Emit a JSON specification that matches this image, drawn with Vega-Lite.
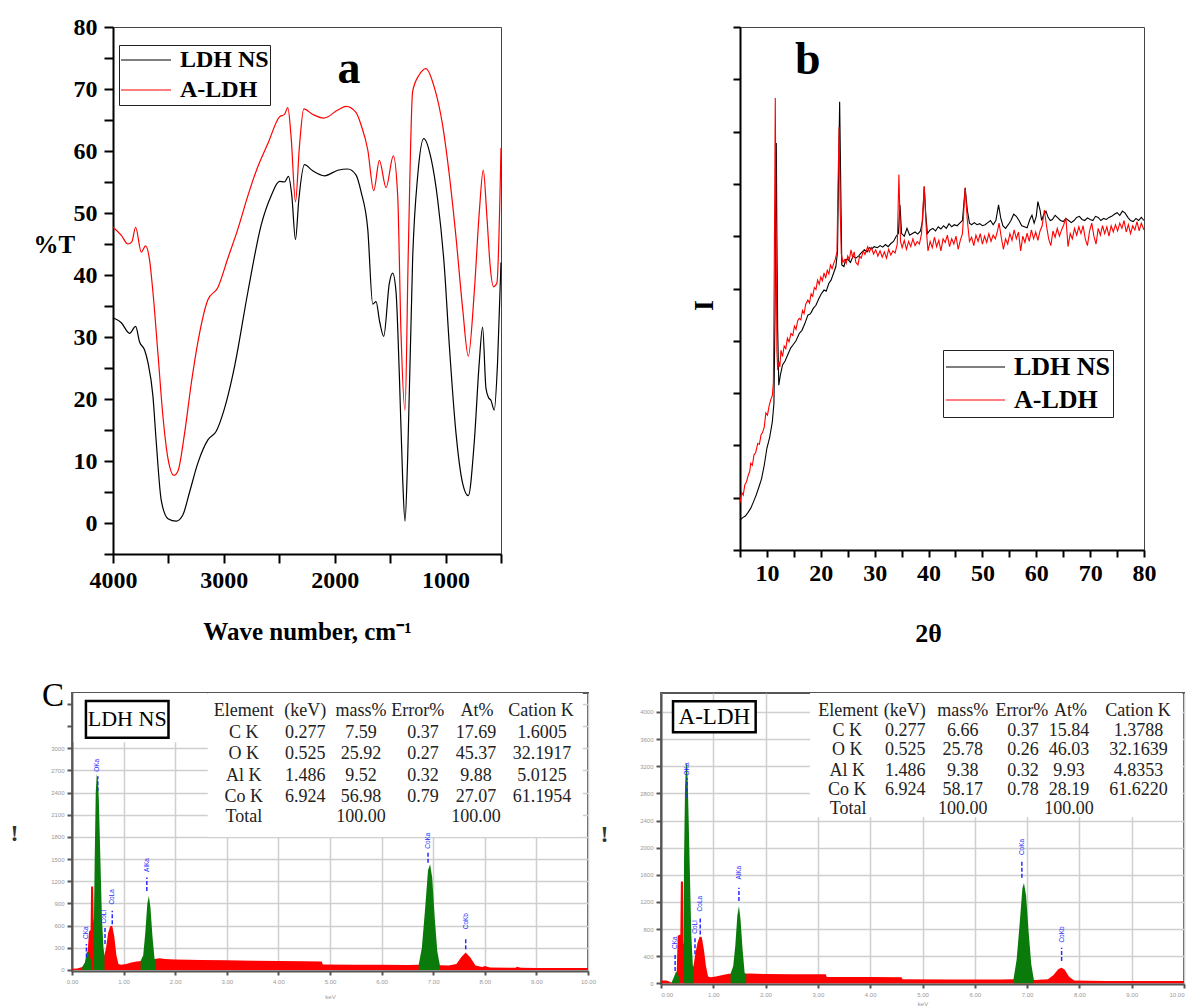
{
"$schema": "https://vega.github.io/schema/vega-lite/v6.json",
"background": "white",
"padding": {"left": 9, "top": 14, "right": 5, "bottom": 0},
"config": {"view": {"stroke": null}, "font": "Liberation Serif"},
"resolve": {"scale": {"color": "independent"}, "legend": {"color": "independent"}},
"columns": 1,
"align": "none",
"spacing": 32,
"concat": [
{
"hconcat": [
{
"width": 1, "height": 1,
"data": {"values": [{}]},
"mark": {"type": "point", "opacity": 0, "size": 1}
},
{
"hconcat": [
{
"width": 388, "height": 527,
"view": {"stroke": "#444", "strokeWidth": 1},
"layer": [
{
"data": {"values": [
{"s":"LDH NS","w":4000,"t":33.1},{"s":"LDH NS","w":3925,"t":32.3},{"s":"LDH NS","w":3850,"t":30.6},{"s":"LDH NS","w":3796,"t":31.7},{"s":"LDH NS","w":3760,"t":29.2},{"s":"LDH NS","w":3715,"t":27.9},{"s":"LDH NS","w":3685,"t":25.9},{"s":"LDH NS","w":3640,"t":20.5},{"s":"LDH NS","w":3610,"t":13.1},{"s":"LDH NS","w":3565,"t":3.7},{"s":"LDH NS","w":3504,"t":0.7},{"s":"LDH NS","w":3430,"t":0.3},{"s":"LDH NS","w":3370,"t":1.3},{"s":"LDH NS","w":3309,"t":5.0},{"s":"LDH NS","w":3234,"t":9.7},{"s":"LDH NS","w":3144,"t":13.4},{"s":"LDH NS","w":3069,"t":14.8},{"s":"LDH NS","w":2994,"t":18.5},{"s":"LDH NS","w":2904,"t":25.2},{"s":"LDH NS","w":2783,"t":37.3},{"s":"LDH NS","w":2663,"t":48.1},{"s":"LDH NS","w":2573,"t":52.8},{"s":"LDH NS","w":2498,"t":55.1},{"s":"LDH NS","w":2453,"t":55.0},{"s":"LDH NS","w":2417,"t":55.9},{"s":"LDH NS","w":2387,"t":52.8},{"s":"LDH NS","w":2354,"t":45.7},{"s":"LDH NS","w":2324,"t":52.1},{"s":"LDH NS","w":2273,"t":57.8},{"s":"LDH NS","w":2198,"t":56.8},{"s":"LDH NS","w":2092,"t":56.0},{"s":"LDH NS","w":1972,"t":56.9},{"s":"LDH NS","w":1882,"t":57.1},{"s":"LDH NS","w":1807,"t":56.1},{"s":"LDH NS","w":1762,"t":53.4},{"s":"LDH NS","w":1702,"t":47.4},{"s":"LDH NS","w":1657,"t":35.3},{"s":"LDH NS","w":1627,"t":35.7},{"s":"LDH NS","w":1595,"t":32.5},{"s":"LDH NS","w":1558,"t":30.1},{"s":"LDH NS","w":1507,"t":38.7},{"s":"LDH NS","w":1477,"t":40.3},{"s":"LDH NS","w":1447,"t":37.3},{"s":"LDH NS","w":1417,"t":23.9},{"s":"LDH NS","w":1387,"t":7.1},{"s":"LDH NS","w":1366,"t":0.3},{"s":"LDH NS","w":1342,"t":10.4},{"s":"LDH NS","w":1297,"t":42.7},{"s":"LDH NS","w":1251,"t":56.1},{"s":"LDH NS","w":1197,"t":62.0},{"s":"LDH NS","w":1131,"t":58.8},{"s":"LDH NS","w":1071,"t":52.1},{"s":"LDH NS","w":1011,"t":41.3},{"s":"LDH NS","w":966,"t":28.6},{"s":"LDH NS","w":906,"t":14.5},{"s":"LDH NS","w":846,"t":6.4},{"s":"LDH NS","w":795,"t":4.4},{"s":"LDH NS","w":741,"t":13.1},{"s":"LDH NS","w":696,"t":25.9},{"s":"LDH NS","w":666,"t":31.6},{"s":"LDH NS","w":636,"t":21.8},{"s":"LDH NS","w":612,"t":20.2},{"s":"LDH NS","w":591,"t":19.8},{"s":"LDH NS","w":561,"t":18.2},{"s":"LDH NS","w":531,"t":25.9},{"s":"LDH NS","w":500,"t":42.0},
{"s":"A-LDH","w":4000,"t":47.7},{"s":"A-LDH","w":3925,"t":46.4},{"s":"A-LDH","w":3865,"t":45.0},{"s":"A-LDH","w":3829,"t":45.4},{"s":"A-LDH","w":3796,"t":47.7},{"s":"A-LDH","w":3745,"t":43.7},{"s":"A-LDH","w":3706,"t":44.7},{"s":"A-LDH","w":3670,"t":42.4},{"s":"A-LDH","w":3640,"t":37.3},{"s":"A-LDH","w":3594,"t":27.2},{"s":"A-LDH","w":3549,"t":17.1},{"s":"A-LDH","w":3504,"t":10.4},{"s":"A-LDH","w":3450,"t":7.7},{"s":"A-LDH","w":3414,"t":8.4},{"s":"A-LDH","w":3354,"t":14.5},{"s":"A-LDH","w":3294,"t":22.5},{"s":"A-LDH","w":3234,"t":29.2},{"s":"A-LDH","w":3144,"t":36.0},{"s":"A-LDH","w":3054,"t":38.0},{"s":"A-LDH","w":2964,"t":42.7},{"s":"A-LDH","w":2874,"t":47.4},{"s":"A-LDH","w":2783,"t":52.8},{"s":"A-LDH","w":2693,"t":57.5},{"s":"A-LDH","w":2603,"t":61.2},{"s":"A-LDH","w":2498,"t":65.5},{"s":"A-LDH","w":2453,"t":65.9},{"s":"A-LDH","w":2423,"t":67.0},{"s":"A-LDH","w":2393,"t":62.2},{"s":"A-LDH","w":2354,"t":51.8},{"s":"A-LDH","w":2318,"t":60.8},{"s":"A-LDH","w":2279,"t":66.8},{"s":"A-LDH","w":2198,"t":65.9},{"s":"A-LDH","w":2098,"t":65.3},{"s":"A-LDH","w":1972,"t":66.6},{"s":"A-LDH","w":1897,"t":67.2},{"s":"A-LDH","w":1807,"t":66.2},{"s":"A-LDH","w":1762,"t":64.2},{"s":"A-LDH","w":1702,"t":60.2},{"s":"A-LDH","w":1648,"t":53.6},{"s":"A-LDH","w":1597,"t":58.5},{"s":"A-LDH","w":1537,"t":54.1},{"s":"A-LDH","w":1471,"t":59.2},{"s":"A-LDH","w":1432,"t":52.8},{"s":"A-LDH","w":1402,"t":30.6},{"s":"A-LDH","w":1366,"t":18.2},{"s":"A-LDH","w":1336,"t":44.0},{"s":"A-LDH","w":1297,"t":69.6},{"s":"A-LDH","w":1237,"t":72.3},{"s":"A-LDH","w":1177,"t":73.3},{"s":"A-LDH","w":1102,"t":70.3},{"s":"A-LDH","w":1027,"t":64.2},{"s":"A-LDH","w":966,"t":56.1},{"s":"A-LDH","w":906,"t":46.1},{"s":"A-LDH","w":846,"t":34.6},{"s":"A-LDH","w":795,"t":26.9},{"s":"A-LDH","w":741,"t":37.3},{"s":"A-LDH","w":696,"t":50.1},{"s":"A-LDH","w":660,"t":56.9},{"s":"A-LDH","w":627,"t":49.4},{"s":"A-LDH","w":597,"t":41.3},{"s":"A-LDH","w":567,"t":38.1},{"s":"A-LDH","w":537,"t":38.7},{"s":"A-LDH","w":500,"t":60.5}
]},
"mark": {"type": "line", "strokeWidth": 1.2, "interpolate": "monotone"},
"encoding": {
"x": {"field": "w", "type": "quantitative", "scale": {"domain": [4000, 500], "nice": false, "zero": false},
 "axis": {"values": [4000,3500,3000,2500,2000,1500,1000,500], "tickCount": 100, "format": "d", "labelExpr": "datum.value % 1000 == 0 ? datum.label : ''", "labelFlush": false, "labelOverlap": false, "grid": false,
  "labelFont": "Liberation Serif", "labelFontSize": 24, "labelFontWeight": "bold", "labelColor": "black", "labelPadding": 5,
  "tickSize": 9, "tickWidth": 2, "tickColor": "black", "domainColor": "black", "domainWidth": 2,
  "title": "Wave number, cm⁻¹", "titleFont": "Liberation Serif", "titleFontSize": 25, "titleFontWeight": "bold", "titleColor": "black", "titleY": 77, "titleBaseline": "middle"}},
"y": {"field": "t", "type": "quantitative", "scale": {"domain": [-5, 80], "nice": false, "zero": false},
 "axis": {"values": [-5,0,5,10,15,20,25,30,35,40,45,50,55,60,65,70,75,80], "tickCount": 100, "format": "d", "labelExpr": "datum.value % 10 == 0 ? datum.label : ''", "labelFlush": false, "labelOverlap": false, "grid": false,
  "labelFont": "Liberation Serif", "labelFontSize": 24, "labelFontWeight": "bold", "labelColor": "black", "labelPadding": 7,
  "tickSize": 9, "tickWidth": 2, "tickColor": "black", "domainColor": "black", "domainWidth": 2,
  "title": "%T", "titleFont": "Liberation Serif", "titleFontSize": 25, "titleFontWeight": "bold", "titleColor": "black", "titleAngle": 0, "titleAlign": "left", "titleBaseline": "middle", "titleX": -80, "titleY": 217}},
"color": {"field": "s", "type": "nominal", "sort": ["LDH NS", "A-LDH"], "scale": {"domain": ["LDH NS", "A-LDH"], "range": ["black", "red"]},
 "legend": {"title": null, "orient": "none", "legendX": 6, "legendY": 18, "symbolType": "stroke", "symbolSize": 2500, "symbolStrokeWidth": 1.2, "clipHeight": 28, "rowPadding": 2, "padding": 1, "labelOffset": 8,
  "labelFont": "Liberation Serif", "labelFontSize": 24, "labelFontWeight": "bold", "labelColor": "black", "labelLimit": 300, "strokeColor": "#222", "fillColor": "white"}}
}
},
{
"data": {"values": [{"w": 1871, "t": 73.2, "lab": "a"}]},
"mark": {"type": "text", "font": "Liberation Serif", "fontSize": 46, "fontWeight": "bold", "color": "black", "align": "center", "baseline": "middle"},
"encoding": {"x": {"field": "w", "type": "quantitative"}, "y": {"field": "t", "type": "quantitative"}, "text": {"field": "lab"}}
}
]
},
{
"width": 404, "height": 523,
"view": {"stroke": "#444", "strokeWidth": 1},
"layer": [
{
"data": {"values": [
{"s":"LDH NS","d":5.0,"i":0.57},{"s":"LDH NS","d":5.5,"i":0.62},{"s":"LDH NS","d":6.0,"i":0.65},{"s":"LDH NS","d":6.5,"i":0.72},{"s":"LDH NS","d":7.0,"i":0.8},{"s":"LDH NS","d":7.5,"i":0.92},{"s":"LDH NS","d":8.0,"i":1.05},{"s":"LDH NS","d":8.5,"i":1.2},{"s":"LDH NS","d":9.0,"i":1.36},{"s":"LDH NS","d":9.5,"i":1.62},{"s":"LDH NS","d":10.0,"i":1.95},{"s":"LDH NS","d":10.5,"i":2.15},{"s":"LDH NS","d":11.0,"i":2.45},{"s":"LDH NS","d":11.3,"i":2.8},{"s":"LDH NS","d":11.5,"i":4.5},{"s":"LDH NS","d":11.65,"i":7.0},{"s":"LDH NS","d":11.74,"i":7.78},{"s":"LDH NS","d":11.85,"i":6.0},{"s":"LDH NS","d":12.0,"i":4.2},{"s":"LDH NS","d":12.2,"i":3.15},{"s":"LDH NS","d":12.5,"i":3.35},{"s":"LDH NS","d":12.9,"i":3.54},{"s":"LDH NS","d":13.4,"i":3.62},{"s":"LDH NS","d":13.8,"i":3.72},{"s":"LDH NS","d":14.4,"i":3.86},{"s":"LDH NS","d":14.9,"i":3.93},{"s":"LDH NS","d":15.4,"i":4.0},{"s":"LDH NS","d":16.0,"i":4.14},{"s":"LDH NS","d":16.5,"i":4.2},{"s":"LDH NS","d":17.0,"i":4.32},{"s":"LDH NS","d":17.6,"i":4.49},{"s":"LDH NS","d":18.1,"i":4.52},{"s":"LDH NS","d":18.6,"i":4.62},{"s":"LDH NS","d":19.1,"i":4.68},{"s":"LDH NS","d":19.6,"i":4.8},{"s":"LDH NS","d":20.1,"i":4.9},{"s":"LDH NS","d":20.6,"i":4.97},{"s":"LDH NS","d":21.0,"i":4.95},{"s":"LDH NS","d":21.5,"i":5.1},{"s":"LDH NS","d":21.9,"i":5.16},{"s":"LDH NS","d":22.4,"i":5.3},{"s":"LDH NS","d":22.8,"i":5.42},{"s":"LDH NS","d":23.1,"i":5.7},{"s":"LDH NS","d":23.3,"i":7.2},{"s":"LDH NS","d":23.5,"i":8.57},{"s":"LDH NS","d":23.7,"i":7.0},{"s":"LDH NS","d":23.9,"i":5.45},{"s":"LDH NS","d":24.3,"i":5.42},{"s":"LDH NS","d":24.6,"i":5.55},{"s":"LDH NS","d":25.0,"i":5.56},{"s":"LDH NS","d":25.5,"i":5.5},{"s":"LDH NS","d":26.0,"i":5.62},{"s":"LDH NS","d":26.5,"i":5.58},{"s":"LDH NS","d":27.0,"i":5.62},{"s":"LDH NS","d":27.5,"i":5.68},{"s":"LDH NS","d":28.1,"i":5.74},{"s":"LDH NS","d":28.6,"i":5.7},{"s":"LDH NS","d":29.0,"i":5.78},{"s":"LDH NS","d":29.5,"i":5.76},{"s":"LDH NS","d":29.9,"i":5.8},{"s":"LDH NS","d":30.5,"i":5.78},{"s":"LDH NS","d":31.0,"i":5.82},{"s":"LDH NS","d":31.5,"i":5.79},{"s":"LDH NS","d":32.0,"i":5.84},{"s":"LDH NS","d":32.5,"i":5.8},{"s":"LDH NS","d":33.0,"i":5.86},{"s":"LDH NS","d":33.5,"i":5.9},{"s":"LDH NS","d":34.0,"i":6.0},{"s":"LDH NS","d":34.4,"i":6.05},{"s":"LDH NS","d":34.7,"i":6.6},{"s":"LDH NS","d":35.0,"i":6.05},{"s":"LDH NS","d":35.5,"i":6.0},{"s":"LDH NS","d":36.0,"i":6.15},{"s":"LDH NS","d":36.5,"i":6.02},{"s":"LDH NS","d":37.0,"i":6.05},{"s":"LDH NS","d":37.5,"i":6.08},{"s":"LDH NS","d":38.0,"i":6.04},{"s":"LDH NS","d":38.5,"i":6.1},{"s":"LDH NS","d":38.9,"i":6.3},{"s":"LDH NS","d":39.2,"i":6.95},{"s":"LDH NS","d":39.5,"i":6.4},{"s":"LDH NS","d":39.8,"i":6.05},{"s":"LDH NS","d":40.3,"i":6.12},{"s":"LDH NS","d":40.8,"i":6.15},{"s":"LDH NS","d":41.3,"i":6.1},{"s":"LDH NS","d":41.8,"i":6.18},{"s":"LDH NS","d":42.3,"i":6.14},{"s":"LDH NS","d":42.8,"i":6.2},{"s":"LDH NS","d":43.3,"i":6.15},{"s":"LDH NS","d":43.8,"i":6.24},{"s":"LDH NS","d":44.3,"i":6.18},{"s":"LDH NS","d":44.8,"i":6.22},{"s":"LDH NS","d":45.3,"i":6.2},{"s":"LDH NS","d":45.8,"i":6.25},{"s":"LDH NS","d":46.3,"i":6.3},{"s":"LDH NS","d":46.8,"i":6.92},{"s":"LDH NS","d":47.2,"i":6.5},{"s":"LDH NS","d":47.6,"i":6.25},{"s":"LDH NS","d":48.0,"i":6.22},{"s":"LDH NS","d":48.5,"i":6.26},{"s":"LDH NS","d":49.0,"i":6.22},{"s":"LDH NS","d":49.5,"i":6.24},{"s":"LDH NS","d":50.0,"i":6.2},{"s":"LDH NS","d":50.5,"i":6.22},{"s":"LDH NS","d":51.0,"i":6.26},{"s":"LDH NS","d":51.5,"i":6.3},{"s":"LDH NS","d":52.0,"i":6.22},{"s":"LDH NS","d":52.5,"i":6.3},{"s":"LDH NS","d":53.0,"i":6.6},{"s":"LDH NS","d":53.4,"i":6.35},{"s":"LDH NS","d":53.8,"i":6.2},{"s":"LDH NS","d":54.3,"i":6.15},{"s":"LDH NS","d":54.8,"i":6.22},{"s":"LDH NS","d":55.3,"i":6.3},{"s":"LDH NS","d":55.8,"i":6.42},{"s":"LDH NS","d":56.3,"i":6.38},{"s":"LDH NS","d":56.8,"i":6.3},{"s":"LDH NS","d":57.3,"i":6.2},{"s":"LDH NS","d":57.8,"i":6.18},{"s":"LDH NS","d":58.3,"i":6.16},{"s":"LDH NS","d":58.8,"i":6.32},{"s":"LDH NS","d":59.2,"i":6.4},{"s":"LDH NS","d":59.6,"i":6.25},{"s":"LDH NS","d":60.0,"i":6.38},{"s":"LDH NS","d":60.3,"i":6.66},{"s":"LDH NS","d":60.7,"i":6.5},{"s":"LDH NS","d":61.0,"i":6.3},{"s":"LDH NS","d":61.4,"i":6.42},{"s":"LDH NS","d":61.8,"i":6.48},{"s":"LDH NS","d":62.2,"i":6.36},{"s":"LDH NS","d":62.6,"i":6.3},{"s":"LDH NS","d":63.0,"i":6.32},{"s":"LDH NS","d":63.5,"i":6.4},{"s":"LDH NS","d":64.0,"i":6.35},{"s":"LDH NS","d":64.5,"i":6.3},{"s":"LDH NS","d":65.0,"i":6.28},{"s":"LDH NS","d":65.5,"i":6.34},{"s":"LDH NS","d":66.0,"i":6.3},{"s":"LDH NS","d":66.5,"i":6.26},{"s":"LDH NS","d":67.0,"i":6.3},{"s":"LDH NS","d":67.5,"i":6.36},{"s":"LDH NS","d":68.0,"i":6.38},{"s":"LDH NS","d":68.5,"i":6.32},{"s":"LDH NS","d":69.0,"i":6.3},{"s":"LDH NS","d":69.5,"i":6.35},{"s":"LDH NS","d":70.0,"i":6.32},{"s":"LDH NS","d":70.5,"i":6.3},{"s":"LDH NS","d":71.0,"i":6.38},{"s":"LDH NS","d":71.5,"i":6.36},{"s":"LDH NS","d":72.0,"i":6.3},{"s":"LDH NS","d":72.5,"i":6.34},{"s":"LDH NS","d":73.0,"i":6.32},{"s":"LDH NS","d":73.5,"i":6.36},{"s":"LDH NS","d":74.0,"i":6.38},{"s":"LDH NS","d":74.5,"i":6.42},{"s":"LDH NS","d":75.0,"i":6.45},{"s":"LDH NS","d":75.5,"i":6.4},{"s":"LDH NS","d":76.0,"i":6.48},{"s":"LDH NS","d":76.5,"i":6.44},{"s":"LDH NS","d":77.0,"i":6.36},{"s":"LDH NS","d":77.5,"i":6.3},{"s":"LDH NS","d":78.0,"i":6.28},{"s":"LDH NS","d":78.5,"i":6.34},{"s":"LDH NS","d":79.0,"i":6.3},{"s":"LDH NS","d":79.5,"i":6.36},{"s":"LDH NS","d":80.0,"i":6.3},
{"s":"A-LDH","d":5.0,"i":0.9},{"s":"A-LDH","d":5.3,"i":1.1},{"s":"A-LDH","d":5.6,"i":1.05},{"s":"A-LDH","d":5.9,"i":1.25},{"s":"A-LDH","d":6.2,"i":1.3},{"s":"A-LDH","d":6.5,"i":1.42},{"s":"A-LDH","d":6.8,"i":1.5},{"s":"A-LDH","d":7.0,"i":1.66},{"s":"A-LDH","d":7.3,"i":1.62},{"s":"A-LDH","d":7.6,"i":1.82},{"s":"A-LDH","d":7.9,"i":1.86},{"s":"A-LDH","d":8.3,"i":2.04},{"s":"A-LDH","d":8.6,"i":2.02},{"s":"A-LDH","d":8.9,"i":2.2},{"s":"A-LDH","d":9.2,"i":2.25},{"s":"A-LDH","d":9.5,"i":2.35},{"s":"A-LDH","d":9.8,"i":2.62},{"s":"A-LDH","d":10.1,"i":2.58},{"s":"A-LDH","d":10.4,"i":2.75},{"s":"A-LDH","d":10.7,"i":2.87},{"s":"A-LDH","d":11.0,"i":2.95},{"s":"A-LDH","d":11.2,"i":3.2},{"s":"A-LDH","d":11.4,"i":6.0},{"s":"A-LDH","d":11.55,"i":8.64},{"s":"A-LDH","d":11.7,"i":6.0},{"s":"A-LDH","d":11.85,"i":3.8},{"s":"A-LDH","d":12.0,"i":3.44},{"s":"A-LDH","d":12.2,"i":3.6},{"s":"A-LDH","d":12.4,"i":3.5},{"s":"A-LDH","d":12.6,"i":3.82},{"s":"A-LDH","d":12.9,"i":3.7},{"s":"A-LDH","d":13.2,"i":3.9},{"s":"A-LDH","d":13.5,"i":3.85},{"s":"A-LDH","d":13.8,"i":4.05},{"s":"A-LDH","d":14.1,"i":3.98},{"s":"A-LDH","d":14.47,"i":4.14},{"s":"A-LDH","d":14.8,"i":4.1},{"s":"A-LDH","d":15.1,"i":4.28},{"s":"A-LDH","d":15.4,"i":4.22},{"s":"A-LDH","d":15.7,"i":4.38},{"s":"A-LDH","d":16.0,"i":4.43},{"s":"A-LDH","d":16.3,"i":4.4},{"s":"A-LDH","d":16.6,"i":4.58},{"s":"A-LDH","d":16.9,"i":4.52},{"s":"A-LDH","d":17.2,"i":4.7},{"s":"A-LDH","d":17.6,"i":4.78},{"s":"A-LDH","d":17.9,"i":4.72},{"s":"A-LDH","d":18.2,"i":4.9},{"s":"A-LDH","d":18.5,"i":4.85},{"s":"A-LDH","d":18.8,"i":5.02},{"s":"A-LDH","d":19.1,"i":4.98},{"s":"A-LDH","d":19.4,"i":5.16},{"s":"A-LDH","d":19.7,"i":5.08},{"s":"A-LDH","d":20.0,"i":5.22},{"s":"A-LDH","d":20.3,"i":5.15},{"s":"A-LDH","d":20.6,"i":5.3},{"s":"A-LDH","d":20.9,"i":5.2},{"s":"A-LDH","d":21.2,"i":5.35},{"s":"A-LDH","d":21.5,"i":5.28},{"s":"A-LDH","d":21.8,"i":5.45},{"s":"A-LDH","d":22.1,"i":5.38},{"s":"A-LDH","d":22.4,"i":5.48},{"s":"A-LDH","d":22.7,"i":5.56},{"s":"A-LDH","d":23.0,"i":5.7},{"s":"A-LDH","d":23.2,"i":7.0},{"s":"A-LDH","d":23.4,"i":8.09},{"s":"A-LDH","d":23.6,"i":6.5},{"s":"A-LDH","d":23.8,"i":5.67},{"s":"A-LDH","d":24.1,"i":5.5},{"s":"A-LDH","d":24.4,"i":5.55},{"s":"A-LDH","d":24.7,"i":5.48},{"s":"A-LDH","d":25.0,"i":5.62},{"s":"A-LDH","d":25.3,"i":5.55},{"s":"A-LDH","d":25.6,"i":5.74},{"s":"A-LDH","d":25.9,"i":5.6},{"s":"A-LDH","d":26.2,"i":5.7},{"s":"A-LDH","d":26.5,"i":5.5},{"s":"A-LDH","d":26.9,"i":5.45},{"s":"A-LDH","d":27.2,"i":5.62},{"s":"A-LDH","d":27.5,"i":5.58},{"s":"A-LDH","d":27.9,"i":5.72},{"s":"A-LDH","d":28.2,"i":5.65},{"s":"A-LDH","d":28.7,"i":5.8},{"s":"A-LDH","d":29.0,"i":5.7},{"s":"A-LDH","d":29.4,"i":5.78},{"s":"A-LDH","d":29.8,"i":5.66},{"s":"A-LDH","d":30.2,"i":5.74},{"s":"A-LDH","d":30.6,"i":5.62},{"s":"A-LDH","d":31.0,"i":5.72},{"s":"A-LDH","d":31.4,"i":5.6},{"s":"A-LDH","d":31.8,"i":5.7},{"s":"A-LDH","d":32.2,"i":5.58},{"s":"A-LDH","d":32.6,"i":5.75},{"s":"A-LDH","d":33.0,"i":5.64},{"s":"A-LDH","d":33.4,"i":5.72},{"s":"A-LDH","d":33.8,"i":5.68},{"s":"A-LDH","d":34.2,"i":5.85},{"s":"A-LDH","d":34.5,"i":7.18},{"s":"A-LDH","d":34.8,"i":5.9},{"s":"A-LDH","d":35.1,"i":5.78},{"s":"A-LDH","d":35.5,"i":5.92},{"s":"A-LDH","d":35.9,"i":5.75},{"s":"A-LDH","d":36.3,"i":5.9},{"s":"A-LDH","d":36.7,"i":5.8},{"s":"A-LDH","d":37.1,"i":5.95},{"s":"A-LDH","d":37.5,"i":5.82},{"s":"A-LDH","d":37.9,"i":5.9},{"s":"A-LDH","d":38.3,"i":5.85},{"s":"A-LDH","d":38.7,"i":6.05},{"s":"A-LDH","d":39.2,"i":6.95},{"s":"A-LDH","d":39.6,"i":6.1},{"s":"A-LDH","d":39.9,"i":5.72},{"s":"A-LDH","d":40.3,"i":5.9},{"s":"A-LDH","d":40.7,"i":5.78},{"s":"A-LDH","d":41.1,"i":5.98},{"s":"A-LDH","d":41.5,"i":5.8},{"s":"A-LDH","d":41.9,"i":5.92},{"s":"A-LDH","d":42.3,"i":5.72},{"s":"A-LDH","d":42.7,"i":5.95},{"s":"A-LDH","d":43.1,"i":5.88},{"s":"A-LDH","d":43.5,"i":6.02},{"s":"A-LDH","d":43.9,"i":5.8},{"s":"A-LDH","d":44.3,"i":5.95},{"s":"A-LDH","d":44.7,"i":5.85},{"s":"A-LDH","d":45.1,"i":6.0},{"s":"A-LDH","d":45.5,"i":5.75},{"s":"A-LDH","d":45.9,"i":5.92},{"s":"A-LDH","d":46.3,"i":6.05},{"s":"A-LDH","d":46.8,"i":6.93},{"s":"A-LDH","d":47.2,"i":6.3},{"s":"A-LDH","d":47.6,"i":5.9},{"s":"A-LDH","d":48.0,"i":5.98},{"s":"A-LDH","d":48.4,"i":5.82},{"s":"A-LDH","d":48.8,"i":6.02},{"s":"A-LDH","d":49.2,"i":5.9},{"s":"A-LDH","d":49.6,"i":6.05},{"s":"A-LDH","d":50.0,"i":5.85},{"s":"A-LDH","d":50.4,"i":6.0},{"s":"A-LDH","d":50.8,"i":5.88},{"s":"A-LDH","d":51.2,"i":6.05},{"s":"A-LDH","d":51.6,"i":5.9},{"s":"A-LDH","d":52.0,"i":6.02},{"s":"A-LDH","d":52.4,"i":5.95},{"s":"A-LDH","d":52.8,"i":6.1},{"s":"A-LDH","d":53.1,"i":6.25},{"s":"A-LDH","d":53.5,"i":5.98},{"s":"A-LDH","d":53.9,"i":5.75},{"s":"A-LDH","d":54.3,"i":5.95},{"s":"A-LDH","d":54.7,"i":5.85},{"s":"A-LDH","d":55.1,"i":6.05},{"s":"A-LDH","d":55.5,"i":5.92},{"s":"A-LDH","d":55.9,"i":6.12},{"s":"A-LDH","d":56.3,"i":5.95},{"s":"A-LDH","d":56.7,"i":6.08},{"s":"A-LDH","d":57.1,"i":5.72},{"s":"A-LDH","d":57.5,"i":6.0},{"s":"A-LDH","d":57.9,"i":5.88},{"s":"A-LDH","d":58.3,"i":6.06},{"s":"A-LDH","d":58.7,"i":5.9},{"s":"A-LDH","d":59.1,"i":6.12},{"s":"A-LDH","d":59.5,"i":5.95},{"s":"A-LDH","d":59.9,"i":6.08},{"s":"A-LDH","d":60.3,"i":5.92},{"s":"A-LDH","d":60.7,"i":6.1},{"s":"A-LDH","d":61.1,"i":6.2},{"s":"A-LDH","d":61.5,"i":6.5},{"s":"A-LDH","d":61.9,"i":6.2},{"s":"A-LDH","d":62.3,"i":5.95},{"s":"A-LDH","d":62.7,"i":5.82},{"s":"A-LDH","d":63.1,"i":6.1},{"s":"A-LDH","d":63.5,"i":5.98},{"s":"A-LDH","d":63.9,"i":6.15},{"s":"A-LDH","d":64.3,"i":6.0},{"s":"A-LDH","d":64.7,"i":6.12},{"s":"A-LDH","d":65.1,"i":6.22},{"s":"A-LDH","d":65.5,"i":6.35},{"s":"A-LDH","d":65.9,"i":5.8},{"s":"A-LDH","d":66.3,"i":6.05},{"s":"A-LDH","d":66.7,"i":5.95},{"s":"A-LDH","d":67.1,"i":6.15},{"s":"A-LDH","d":67.5,"i":6.02},{"s":"A-LDH","d":67.9,"i":6.18},{"s":"A-LDH","d":68.3,"i":6.05},{"s":"A-LDH","d":68.7,"i":6.2},{"s":"A-LDH","d":69.1,"i":5.95},{"s":"A-LDH","d":69.5,"i":5.82},{"s":"A-LDH","d":69.9,"i":6.1},{"s":"A-LDH","d":70.3,"i":6.25},{"s":"A-LDH","d":70.7,"i":6.0},{"s":"A-LDH","d":71.1,"i":5.85},{"s":"A-LDH","d":71.5,"i":6.15},{"s":"A-LDH","d":71.9,"i":6.02},{"s":"A-LDH","d":72.3,"i":6.2},{"s":"A-LDH","d":72.7,"i":6.05},{"s":"A-LDH","d":73.1,"i":6.18},{"s":"A-LDH","d":73.5,"i":6.0},{"s":"A-LDH","d":73.9,"i":6.2},{"s":"A-LDH","d":74.3,"i":6.08},{"s":"A-LDH","d":74.7,"i":6.22},{"s":"A-LDH","d":75.1,"i":6.1},{"s":"A-LDH","d":75.5,"i":6.25},{"s":"A-LDH","d":75.9,"i":6.15},{"s":"A-LDH","d":76.3,"i":6.3},{"s":"A-LDH","d":76.7,"i":6.08},{"s":"A-LDH","d":77.1,"i":6.22},{"s":"A-LDH","d":77.5,"i":6.05},{"s":"A-LDH","d":77.9,"i":6.2},{"s":"A-LDH","d":78.3,"i":6.12},{"s":"A-LDH","d":78.7,"i":6.28},{"s":"A-LDH","d":79.1,"i":6.1},{"s":"A-LDH","d":79.5,"i":6.25},{"s":"A-LDH","d":80.0,"i":6.12}
]},
"mark": {"type": "line", "strokeWidth": 1.1},
"encoding": {
"x": {"field": "d", "type": "quantitative", "scale": {"domain": [5, 80], "nice": false, "zero": false},
 "axis": {"values": [5,10,15,20,25,30,35,40,45,50,55,60,65,70,75,80], "tickCount": 100, "format": "d", "labelExpr": "datum.value % 10 == 0 ? datum.label : ''", "labelFlush": false, "labelOverlap": false, "grid": false,
  "labelFont": "Liberation Serif", "labelFontSize": 24, "labelFontWeight": "bold", "labelColor": "black", "labelPadding": 4,
  "tickSize": 7, "tickWidth": 2, "tickColor": "black", "domainColor": "black", "domainWidth": 2,
  "title": "2θ", "titleFont": "Liberation Serif", "titleFontSize": 26, "titleFontWeight": "bold", "titleColor": "black", "titleX": 188, "titleY": 83, "titleBaseline": "middle", "titleAlign": "center"}},
"y": {"field": "i", "type": "quantitative", "scale": {"domain": [0, 10], "nice": false, "zero": false},
 "axis": {"values": [0,1,2,3,4,5,6,7,8,9,10], "tickCount": 100, "labels": false, "grid": false,
  "tickSize": 7, "tickWidth": 2, "tickColor": "black", "domainColor": "black", "domainWidth": 2,
  "title": "I", "titleFont": "Liberation Serif", "titleFontSize": 28, "titleFontWeight": "bold", "titleColor": "black", "titleAngle": 270, "titleAlign": "center", "titleBaseline": "middle", "titleX": -36, "titleY": 278}},
"color": {"field": "s", "type": "nominal", "sort": ["LDH NS", "A-LDH"], "scale": {"domain": ["LDH NS", "A-LDH"], "range": ["black", "red"]},
 "legend": {"title": null, "orient": "none", "legendX": 203, "legendY": 323, "symbolType": "stroke", "symbolSize": 3500, "symbolStrokeWidth": 1.2, "clipHeight": 30, "rowPadding": 3, "padding": 2, "labelOffset": 8,
  "labelFont": "Liberation Serif", "labelFontSize": 26, "labelFontWeight": "bold", "labelColor": "black", "labelLimit": 300, "strokeColor": "#222", "fillColor": "white"}}
}
},
{
"data": {"values": [{"d": 17.6, "i": 9.37, "lab": "b"}]},
"mark": {"type": "text", "font": "Liberation Serif", "fontSize": 46, "fontWeight": "bold", "color": "black", "align": "center", "baseline": "middle"},
"encoding": {"x": {"field": "d", "type": "quantitative"}, "y": {"field": "i", "type": "quantitative"}, "text": {"field": "lab"}}
}
]
}
],
"spacing": 239,
"bounds": "flush",
"resolve": {"scale": {"color": "independent"}, "legend": {"color": "independent"}}
}
],
"spacing": 40,
"bounds": "flush",
"resolve": {"scale": {"color": "independent"}, "legend": {"color": "independent"}}
},
{
"hconcat": [
{
"width": 516, "height": 278,
"view": {"stroke": "#555", "strokeWidth": 2},
"layer": [
{
"data": {"values": [{"k":0.03,"k2":2.63,"c":3080,"c2":3748},{"k":2.63,"k2":9.9,"c":1800,"c2":3748}]},
"mark": {"type": "rect", "color": "white"},
"encoding": {
"x": {"field": "k", "type": "quantitative", "scale": {"domain": [0, 10], "nice": false, "zero": false},
 "axis": {"values": [0,1,2,3,4,5,6,7,8,9,10], "tickCount": 100, "format": ".2f", "labelFlush": false, "labelOverlap": false, "grid": true, "gridColor": "#cfcfcf", "gridWidth": 1.5,
  "labelFont": "Liberation Sans", "labelFontSize": 6, "labelColor": "#999", "labelPadding": 3,
  "tickSize": 4, "tickWidth": 2, "tickColor": "#555", "domainColor": "#555", "domainWidth": 2,
  "title": "keV", "titleFont": "Liberation Sans", "titleFontSize": 6, "titleFontWeight": "normal", "titleColor": "#999", "titleY": 25, "titleBaseline": "middle"}},
"x2": {"field": "k2"},
"y": {"field": "c", "type": "quantitative", "scale": {"domain": [-14, 3748], "nice": false, "zero": false},
 "axis": {"values": [0,300,600,900,1200,1500,1800,2100,2400,2700,3000,3300,3600], "tickCount": 100, "format": "d", "labelExpr": "datum.value <= 3000 ? datum.label : ''", "labelOverlap": false, "labelFlush": false, "grid": true, "gridColor": "#cfcfcf", "gridWidth": 1.5,
  "labelFont": "Liberation Sans", "labelFontSize": 6, "labelColor": "#999", "labelPadding": 3,
  "tickSize": 5, "tickWidth": 2, "tickColor": "#555", "domainColor": "#555", "domainWidth": 2,
  "title": "!", "titleFont": "Liberation Serif", "titleFontSize": 24, "titleFontWeight": "bold", "titleColor": "#333", "titleAngle": 0, "titleAlign": "center", "titleBaseline": "middle", "titleX": -58, "titleY": 140}},
"y2": {"field": "c2"}
}
},
{
"data": {"values": [
{"k":0,"c":15},{"k":0.1,"c":20},{"k":0.2,"c":40},{"k":0.25,"c":90},{"k":0.3,"c":200},{"k":0.33,"c":520},{"k":0.36,"c":540},{"k":0.37,"c":1130},{"k":0.41,"c":1130},{"k":0.42,"c":700},{"k":0.46,"c":300},{"k":0.55,"c":200},{"k":0.62,"c":180},{"k":0.66,"c":300},{"k":0.7,"c":500},{"k":0.74,"c":590},{"k":0.78,"c":600},{"k":0.82,"c":450},{"k":0.86,"c":200},{"k":0.9,"c":80},{"k":0.95,"c":70},{"k":1.05,"c":80},{"k":1.15,"c":100},{"k":1.25,"c":115},{"k":1.35,"c":120},{"k":1.45,"c":125},{"k":1.6,"c":150},{"k":1.7,"c":160},{"k":1.8,"c":150},{"k":2.0,"c":140},{"k":2.5,"c":135},{"k":3.0,"c":130},{"k":3.5,"c":125},{"k":4.0,"c":120},{"k":4.5,"c":118},{"k":4.84,"c":115},{"k":4.86,"c":75},{"k":5.5,"c":72},{"k":6.0,"c":70},{"k":6.5,"c":68},{"k":6.7,"c":70},{"k":7.15,"c":65},{"k":7.3,"c":60},{"k":7.45,"c":80},{"k":7.55,"c":180},{"k":7.63,"c":235},{"k":7.72,"c":170},{"k":7.82,"c":60},{"k":7.95,"c":40},{"k":8.0,"c":55},{"k":8.1,"c":35},{"k":8.6,"c":30},{"k":8.62,"c":45},{"k":8.7,"c":30},{"k":9.0,"c":28},{"k":10.0,"c":25}
]},
"mark": {"type": "area", "color": "#ff0000"},
"encoding": {"x": {"field": "k", "type": "quantitative"}, "y": {"field": "c", "type": "quantitative", "stack": null}}
},
{
"data": {"values": [
{"p":"C","k":0.2,"c":40},{"p":"C","k":0.25,"c":100},{"p":"C","k":0.29,"c":250},{"p":"C","k":0.33,"c":230},{"p":"C","k":0.37,"c":120},{"p":"C","k":0.39,"c":60},
{"p":"O","k":0.41,"c":300},{"p":"O","k":0.42,"c":400},{"p":"O","k":0.44,"c":1500},{"p":"O","k":0.46,"c":2400},{"p":"O","k":0.48,"c":2650},{"p":"O","k":0.5,"c":2600},{"p":"O","k":0.52,"c":2300},{"p":"O","k":0.55,"c":1500},{"p":"O","k":0.58,"c":700},{"p":"O","k":0.61,"c":300},{"p":"O","k":0.63,"c":190},
{"p":"Al","k":1.33,"c":120},{"p":"Al","k":1.38,"c":200},{"p":"Al","k":1.42,"c":500},{"p":"Al","k":1.46,"c":900},{"p":"Al","k":1.49,"c":1000},{"p":"Al","k":1.52,"c":850},{"p":"Al","k":1.56,"c":450},{"p":"Al","k":1.6,"c":150},{"p":"Al","k":1.63,"c":150},
{"p":"Co","k":6.72,"c":70},{"p":"Co","k":6.78,"c":300},{"p":"Co","k":6.84,"c":800},{"p":"Co","k":6.9,"c":1350},{"p":"Co","k":6.94,"c":1430},{"p":"Co","k":6.98,"c":1250},{"p":"Co","k":7.03,"c":700},{"p":"Co","k":7.08,"c":250},{"p":"Co","k":7.13,"c":65}
]},
"mark": {"type": "area", "color": "#0a7a0a"},
"encoding": {"x": {"field": "k", "type": "quantitative"}, "y": {"field": "c", "type": "quantitative", "stack": null}, "detail": {"field": "p", "type": "nominal"}}
},
{
"data": {"values": [
{"k":0.28,"c":170,"c2":350},{"k":0.5,"c":2420,"c2":2620},{"k":0.64,"c":350,"c2":570},{"k":0.78,"c":620,"c2":800},{"k":1.45,"c":1070,"c2":1250},{"k":6.9,"c":1450,"c2":1610},{"k":7.63,"c":280,"c2":438}
]},
"mark": {"type": "rule", "color": "#2a2aff", "strokeWidth": 1.5, "strokeDash": [4, 2]},
"encoding": {"x": {"field": "k", "type": "quantitative"}, "y": {"field": "c", "type": "quantitative"}, "y2": {"field": "c2"}}
},
{
"data": {"values": [
{"k":0.27,"c":505,"t":"CKa"},{"k":0.49,"c":2770,"t":"OKa"},{"k":0.62,"c":720,"t":"CoLl"},{"k":0.78,"c":990,"t":"CoLa"},{"k":1.45,"c":1420,"t":"AlKa"},{"k":6.9,"c":1750,"t":"CoKa"},{"k":7.63,"c":660,"t":"CoKb"}
]},
"mark": {"type": "text", "color": "#2a2aff", "font": "Liberation Sans", "fontSize": 6.5, "angle": 270, "align": "center", "baseline": "middle"},
"encoding": {"x": {"field": "k", "type": "quantitative"}, "y": {"field": "c", "type": "quantitative"}, "text": {"field": "t"}}
},
{
"data": {"values": [{"k":0.27,"k2":1.87,"c":3143,"c2":3640}]},
"mark": {"type": "rect", "fill": "white", "stroke": "black", "strokeWidth": 2.5},
"encoding": {"x": {"field": "k", "type": "quantitative"}, "x2": {"field": "k2"}, "y": {"field": "c", "type": "quantitative"}, "y2": {"field": "c2"}}
},
{
"data": {"values": [
{"k":1.07,"c":3390,"t":"LDH NS","f":22},
{"k":-0.37,"c":3707,"t":"C","f":33}
]},
"mark": {"type": "text", "font": "Liberation Serif", "color": "black", "align": "center", "baseline": "middle"},
"encoding": {"x": {"field": "k", "type": "quantitative"}, "y": {"field": "c", "type": "quantitative"}, "text": {"field": "t"}, "size": {"field": "f", "type": "quantitative", "scale": null, "legend": null}}
},
{
"data": {"values": [
{"k":3.33,"c":3505,"t":"Element"},{"k":4.52,"c":3505,"t":"(keV)"},{"k":5.6,"c":3505,"t":"mass%"},{"k":6.7,"c":3505,"t":"Error%"},{"k":7.85,"c":3505,"t":"At%"},{"k":9.09,"c":3505,"t":"Cation K"},
{"k":3.33,"c":3212,"t":"C  K"},{"k":4.52,"c":3212,"t":"0.277"},{"k":5.6,"c":3212,"t":"7.59"},{"k":6.8,"c":3212,"t":"0.37"},{"k":7.83,"c":3212,"t":"17.69"},{"k":9.11,"c":3212,"t":"1.6005"},
{"k":3.33,"c":2927,"t":"O  K"},{"k":4.52,"c":2927,"t":"0.525"},{"k":5.6,"c":2927,"t":"25.92"},{"k":6.8,"c":2927,"t":"0.27"},{"k":7.83,"c":2927,"t":"45.37"},{"k":9.11,"c":2927,"t":"32.1917"},
{"k":3.33,"c":2625,"t":"Al K"},{"k":4.52,"c":2625,"t":"1.486"},{"k":5.6,"c":2625,"t":"9.52"},{"k":6.8,"c":2625,"t":"0.32"},{"k":7.83,"c":2625,"t":"9.88"},{"k":9.11,"c":2625,"t":"5.0125"},
{"k":3.33,"c":2341,"t":"Co K"},{"k":4.52,"c":2341,"t":"6.924"},{"k":5.6,"c":2341,"t":"56.98"},{"k":6.8,"c":2341,"t":"0.79"},{"k":7.83,"c":2341,"t":"27.07"},{"k":9.11,"c":2341,"t":"61.1954"},
{"k":3.33,"c":2070,"t":"Total"},{"k":5.6,"c":2070,"t":"100.00"},{"k":7.83,"c":2070,"t":"100.00"}
]},
"mark": {"type": "text", "font": "Liberation Serif", "fontSize": 18, "color": "#222", "align": "center", "baseline": "middle"},
"encoding": {"x": {"field": "k", "type": "quantitative"}, "y": {"field": "c", "type": "quantitative"}, "text": {"field": "t"}}
}
]
},
{
"width": 523, "height": 291,
"view": {"stroke": "#555", "strokeWidth": 2},
"layer": [
{
"data": {"values": [{"k":2.85,"k2":9.97,"c":2450,"c2":4280}]},
"mark": {"type": "rect", "color": "white"},
"encoding": {
"x": {"field": "k", "type": "quantitative", "scale": {"domain": [0, 10], "nice": false, "zero": false},
 "axis": {"values": [0,1,2,3,4,5,6,7,8,9,10], "tickCount": 100, "format": ".2f", "labelFlush": true, "labelOverlap": false, "grid": true, "gridColor": "#cfcfcf", "gridWidth": 1.5,
  "labelFont": "Liberation Sans", "labelFontSize": 6, "labelColor": "#999", "labelPadding": 3,
  "tickSize": 4, "tickWidth": 2, "tickColor": "#555", "domainColor": "#555", "domainWidth": 2,
  "title": "keV", "titleFont": "Liberation Sans", "titleFontSize": 6, "titleFontWeight": "normal", "titleColor": "#999", "titleY": 19, "titleBaseline": "middle"}},
"x2": {"field": "k2"},
"y": {"field": "c", "type": "quantitative", "scale": {"domain": [-10, 4280], "nice": false, "zero": false},
 "axis": {"values": [0,400,800,1200,1600,2000,2400,2800,3200,3600,4000], "tickCount": 100, "format": "d", "labelOverlap": false, "labelFlush": false, "grid": true, "gridColor": "#cfcfcf", "gridWidth": 1.5,
  "labelFont": "Liberation Sans", "labelFontSize": 6, "labelColor": "#999", "labelPadding": 3,
  "tickSize": 5, "tickWidth": 2, "tickColor": "#555", "domainColor": "#555", "domainWidth": 2,
  "title": "!", "titleFont": "Liberation Serif", "titleFontSize": 24, "titleFontWeight": "bold", "titleColor": "#333", "titleAngle": 0, "titleAlign": "center", "titleBaseline": "middle", "titleX": -57, "titleY": 141}},
"y2": {"field": "c2"}
}
},
{
"data": {"values": [
{"k":0,"c":40},{"k":0.1,"c":40},{"k":0.15,"c":30},{"k":0.2,"c":10},{"k":0.25,"c":60},{"k":0.3,"c":150},{"k":0.32,"c":700},{"k":0.37,"c":720},{"k":0.38,"c":1500},{"k":0.42,"c":1500},{"k":0.43,"c":600},{"k":0.55,"c":200},{"k":0.62,"c":250},{"k":0.66,"c":450},{"k":0.7,"c":600},{"k":0.74,"c":690},{"k":0.78,"c":680},{"k":0.82,"c":500},{"k":0.86,"c":250},{"k":0.9,"c":100},{"k":0.95,"c":88},{"k":1.05,"c":100},{"k":1.2,"c":128},{"k":1.3,"c":140},{"k":1.6,"c":140},{"k":1.7,"c":145},{"k":2.0,"c":137},{"k":2.5,"c":135},{"k":3.15,"c":132},{"k":3.17,"c":95},{"k":4.0,"c":93},{"k":4.6,"c":90},{"k":4.62,"c":60},{"k":5.5,"c":58},{"k":6.5,"c":58},{"k":6.74,"c":60},{"k":7.15,"c":50},{"k":7.4,"c":60},{"k":7.5,"c":120},{"k":7.6,"c":210},{"k":7.66,"c":230},{"k":7.72,"c":200},{"k":7.8,"c":100},{"k":7.9,"c":40},{"k":8.5,"c":36},{"k":10.0,"c":34}
]},
"mark": {"type": "area", "color": "#ff0000"},
"encoding": {"x": {"field": "k", "type": "quantitative"}, "y": {"field": "c", "type": "quantitative", "stack": null}}
},
{
"data": {"values": [
{"p":"C","k":0.2,"c":10},{"p":"C","k":0.24,"c":80},{"p":"C","k":0.29,"c":177},{"p":"C","k":0.33,"c":120},{"p":"C","k":0.36,"c":60},
{"p":"O","k":0.43,"c":400},{"p":"O","k":0.44,"c":1800},{"p":"O","k":0.46,"c":2900},{"p":"O","k":0.48,"c":3250},{"p":"O","k":0.5,"c":3200},{"p":"O","k":0.52,"c":2700},{"p":"O","k":0.55,"c":1700},{"p":"O","k":0.58,"c":700},{"p":"O","k":0.61,"c":250},{"p":"O","k":0.63,"c":220},
{"p":"Al","k":1.33,"c":140},{"p":"Al","k":1.38,"c":250},{"p":"Al","k":1.42,"c":550},{"p":"Al","k":1.46,"c":1000},{"p":"Al","k":1.49,"c":1140},{"p":"Al","k":1.52,"c":950},{"p":"Al","k":1.56,"c":500},{"p":"Al","k":1.6,"c":150},{"p":"Al","k":1.63,"c":140},
{"p":"Co","k":6.74,"c":60},{"p":"Co","k":6.8,"c":350},{"p":"Co","k":6.86,"c":900},{"p":"Co","k":6.91,"c":1400},{"p":"Co","k":6.94,"c":1480},{"p":"Co","k":6.98,"c":1300},{"p":"Co","k":7.03,"c":750},{"p":"Co","k":7.08,"c":280},{"p":"Co","k":7.13,"c":50}
]},
"mark": {"type": "area", "color": "#0a7a0a"},
"encoding": {"x": {"field": "k", "type": "quantitative"}, "y": {"field": "c", "type": "quantitative", "stack": null}, "detail": {"field": "p", "type": "nominal"}}
},
{
"data": {"values": [
{"k":0.27,"c":182,"c2":427},{"k":0.5,"c":2734,"c2":3028},{"k":0.65,"c":427,"c2":672},{"k":0.75,"c":721,"c2":967},{"k":1.49,"c":1212,"c2":1408},{"k":6.9,"c":1556,"c2":1800},{"k":7.66,"c":329,"c2":525}
]},
"mark": {"type": "rule", "color": "#2a2aff", "strokeWidth": 1.5, "strokeDash": [4, 2]},
"encoding": {"x": {"field": "k", "type": "quantitative"}, "y": {"field": "c", "type": "quantitative"}, "y2": {"field": "c2"}}
},
{
"data": {"values": [
{"k":0.27,"c":600,"t":"CKa"},{"k":0.5,"c":3160,"t":"OKa"},{"k":0.65,"c":830,"t":"CoLl"},{"k":0.75,"c":1175,"t":"CoLa"},{"k":1.49,"c":1630,"t":"AlKa"},{"k":6.9,"c":2010,"t":"CoKa"},{"k":7.66,"c":720,"t":"CoKb"}
]},
"mark": {"type": "text", "color": "#2a2aff", "font": "Liberation Sans", "fontSize": 6.5, "angle": 270, "align": "center", "baseline": "middle"},
"encoding": {"x": {"field": "k", "type": "quantitative"}, "y": {"field": "c", "type": "quantitative"}, "text": {"field": "t"}}
},
{
"data": {"values": [{"k":0.23,"k2":1.81,"c":3700,"c2":4157}]},
"mark": {"type": "rect", "fill": "white", "stroke": "black", "strokeWidth": 2.5},
"encoding": {"x": {"field": "k", "type": "quantitative"}, "x2": {"field": "k2"}, "y": {"field": "c", "type": "quantitative"}, "y2": {"field": "c2"}}
},
{
"data": {"values": [{"k":1.02,"c":3930,"t":"A-LDH"}]},
"mark": {"type": "text", "font": "Liberation Serif", "fontSize": 23, "color": "black", "align": "center", "baseline": "middle"},
"encoding": {"x": {"field": "k", "type": "quantitative"}, "y": {"field": "c", "type": "quantitative"}, "text": {"field": "t"}}
},
{
"data": {"values": [
{"k":3.58,"c":4021,"t":"Element"},{"k":4.66,"c":4021,"t":"(keV)"},{"k":5.77,"c":4021,"t":"mass%"},{"k":6.9,"c":4021,"t":"Error%"},{"k":7.83,"c":4021,"t":"At%"},{"k":9.12,"c":4021,"t":"Cation K"},
{"k":3.56,"c":3727,"t":"C  K"},{"k":4.67,"c":3727,"t":"0.277"},{"k":5.77,"c":3727,"t":"6.66"},{"k":6.92,"c":3727,"t":"0.37"},{"k":7.8,"c":3727,"t":"15.84"},{"k":9.13,"c":3727,"t":"1.3788"},
{"k":3.56,"c":3437,"t":"O  K"},{"k":4.67,"c":3437,"t":"0.525"},{"k":5.77,"c":3437,"t":"25.78"},{"k":6.92,"c":3437,"t":"0.26"},{"k":7.8,"c":3437,"t":"46.03"},{"k":9.13,"c":3437,"t":"32.1639"},
{"k":3.56,"c":3137,"t":"Al K"},{"k":4.67,"c":3137,"t":"1.486"},{"k":5.77,"c":3137,"t":"9.38"},{"k":6.92,"c":3137,"t":"0.32"},{"k":7.8,"c":3137,"t":"9.93"},{"k":9.13,"c":3137,"t":"4.8353"},
{"k":3.56,"c":2847,"t":"Co K"},{"k":4.67,"c":2847,"t":"6.924"},{"k":5.77,"c":2847,"t":"58.17"},{"k":6.92,"c":2847,"t":"0.78"},{"k":7.8,"c":2847,"t":"28.19"},{"k":9.13,"c":2847,"t":"61.6220"},
{"k":3.58,"c":2563,"t":"Total"},{"k":5.77,"c":2563,"t":"100.00"},{"k":7.8,"c":2563,"t":"100.00"}
]},
"mark": {"type": "text", "font": "Liberation Serif", "fontSize": 18, "color": "#222", "align": "center", "baseline": "middle"},
"encoding": {"x": {"field": "k", "type": "quantitative"}, "y": {"field": "c", "type": "quantitative"}, "text": {"field": "t"}}
}
]
}
],
"spacing": 73,
"bounds": "flush"
}
]
}
